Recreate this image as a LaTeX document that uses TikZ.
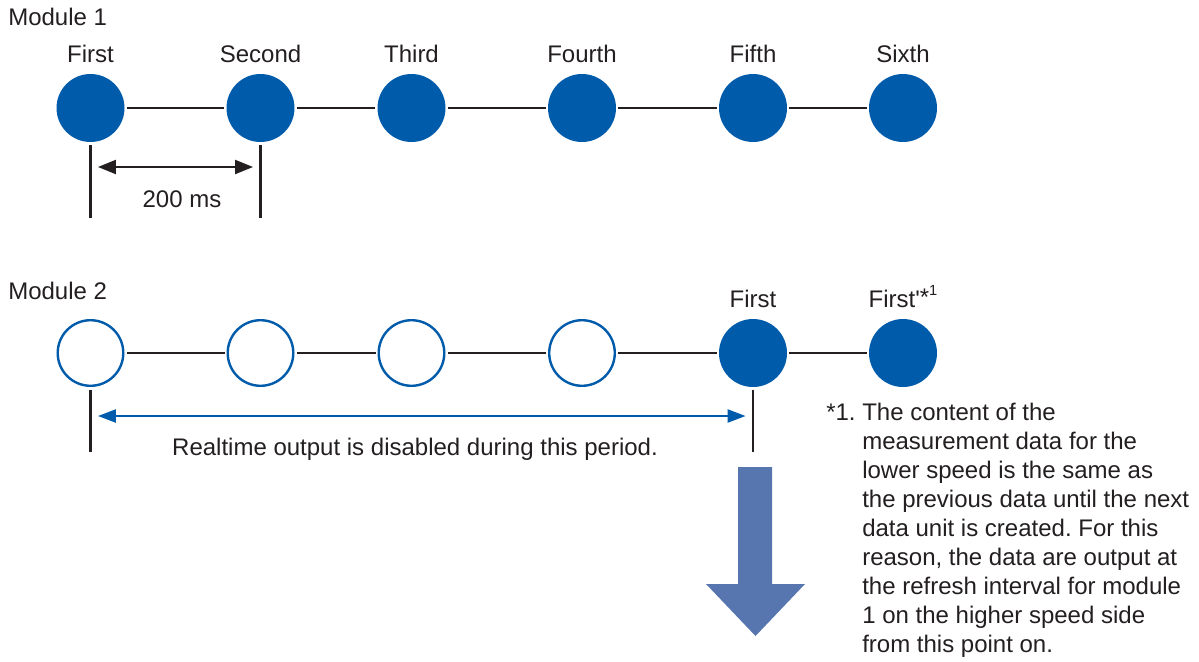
\documentclass[tikz,border=0pt]{standalone}
\usepackage{fontspec}
\setmainfont{Liberation Sans}
\usetikzlibrary{arrows.meta}
\definecolor{dblue}{HTML}{005BAA}
\definecolor{abl}{HTML}{5776B0}
\definecolor{ink}{HTML}{231F20}
\frenchspacing
\begin{document}
\begin{tikzpicture}[x=0.75pt,y=-0.75pt,
  fulldot/.style={circle,fill=dblue,draw=none,minimum size=51pt,inner sep=0pt},
  opendot/.style={circle,fill=white,draw=dblue,line width=1.8pt,minimum size=49.2pt,inner sep=0pt},
  lbl/.style={font=\fontsize{18pt}{21pt}\selectfont,text=ink,inner sep=0pt},
  link/.style={draw=ink,line width=1.7pt,shorten <=1.5pt,shorten >=1.5pt},
  tick/.style={draw=ink,line width=1.7pt},
  dim/.style={draw=ink,line width=1.6pt,{Triangle[length=13.5pt,width=10.5pt]}-{Triangle[length=13.5pt,width=10.5pt]},shorten <=5.6pt,shorten >=5.6pt},
  bdim/.style={draw=dblue,line width=1.6pt,{Triangle[length=13.5pt,width=9.8pt]}-{Triangle[length=13.5pt,width=9.8pt]},shorten <=5.6pt,shorten >=5.6pt}
]
\useasboundingbox (0,0) rectangle (1199,661);

% Module 1
\node[lbl,anchor=base west] (mod1) at (8,25) {Module 1};
\node[fulldot] (a1) at (90.5,108) {};
\node[fulldot] (a2) at (260.5,108) {};
\node[fulldot] (a3) at (411.5,108) {};
\node[fulldot] (a4) at (582,108) {};
\node[fulldot] (a5) at (753,108) {};
\node[fulldot] (a6) at (903,108) {};
\foreach \i/\t in {1/First,2/Second,3/Third,4/Fourth,5/Fifth,6/Sixth}
  \node[lbl,anchor=base] (la\i) at ([yshift=8.3pt]a\i.north) {\t};
\foreach \i/\j in {1/2,2/3,3/4,4/5,5/6}
  \draw[link] (a\i) -- (a\j);

\coordinate (ta1) at (90.5,218);
\coordinate (ta2) at (260.5,218);
\draw[tick] ([yshift=-2.2pt]a1.south) -- (ta1);
\draw[tick] ([yshift=-2.2pt]a2.south) -- (ta2);
\coordinate (da1) at (90.5,167);
\coordinate (da2) at (260.5,167);
\draw[dim] (da1) -- (da2);
\node[lbl,anchor=base] (ms) at (182,207) {200 ms};

% Module 2
\node[lbl,anchor=base west] (mod2) at (8,299) {Module 2};
\node[opendot] (b1) at (90.5,353) {};
\node[opendot] (b2) at (260.5,353) {};
\node[opendot] (b3) at (411.5,353) {};
\node[opendot] (b4) at (582,353) {};
\node[fulldot] (b5) at (753,353) {};
\node[fulldot] (b6) at (903,353) {};
\node[lbl,anchor=base] (lb5) at ([yshift=8.8pt]b5.north) {First};
\node[lbl,anchor=base] (lb6) at ([yshift=8.8pt]b6.north) {First\textquotesingle\raisebox{0.08em}{*}\raisebox{0.5em}{\fontsize{11pt}{12pt}\selectfont 1}};
\foreach \i/\j in {1/2,2/3,3/4,4/5,5/6}
  \draw[link] (b\i) -- (b\j);

\coordinate (tb1) at (90.5,452);
\coordinate (tb5) at (753,452);
\draw[tick] ([yshift=-2.2pt]b1.south) -- (tb1);
\draw[tick] ([yshift=-2.2pt]b5.south) -- (tb5);
\coordinate (db1) at (90.5,416);
\coordinate (db5) at (753,416);
\draw[bdim] (db1) -- (db5);
\node[lbl,anchor=base] (rt) at (415,455) {Realtime output is disabled during this period.};

% big arrow
\fill[abl] (738,467) -- (772,467) -- (772,584) -- (805,584) -- (755.5,636) -- (706,584) -- (738,584) -- cycle;

% footnote
\node[lbl,anchor=base west] (fn) at (826,420) {*1.};
\node[lbl,anchor=north west,align=left,font=\fontsize{18pt}{21.75pt}\selectfont] (fntext) at (862,402.5)
 {The content of the\\
  measurement data for the\\
  lower speed is the same as\\
  the previous data until the next\\
  data unit is created. For this\\
  reason, the data are output at\\
  the refresh interval for module\\
  1 on the higher speed side\\
  from this point on.};
\end{tikzpicture}
\end{document}
